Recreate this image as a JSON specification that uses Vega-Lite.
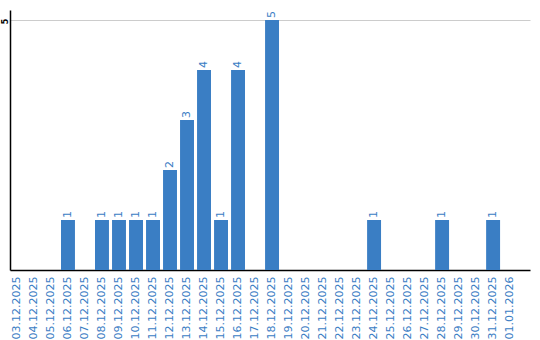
{
  "$schema": "https://vega.github.io/schema/vega-lite/v6.json",
  "width": 520,
  "height": 260,
  "autosize": "none",
  "padding": {"left": 10, "top": 10, "right": 10, "bottom": 70},
  "config": {
    "view": {"stroke": null},
    "font": "DejaVu Sans"
  },
  "data": {
    "values": [
      {"date": "03.12.2025", "count": 0},
      {"date": "04.12.2025", "count": 0},
      {"date": "05.12.2025", "count": 0},
      {"date": "06.12.2025", "count": 1},
      {"date": "07.12.2025", "count": 0},
      {"date": "08.12.2025", "count": 1},
      {"date": "09.12.2025", "count": 1},
      {"date": "10.12.2025", "count": 1},
      {"date": "11.12.2025", "count": 1},
      {"date": "12.12.2025", "count": 2},
      {"date": "13.12.2025", "count": 3},
      {"date": "14.12.2025", "count": 4},
      {"date": "15.12.2025", "count": 1},
      {"date": "16.12.2025", "count": 4},
      {"date": "17.12.2025", "count": 0},
      {"date": "18.12.2025", "count": 5},
      {"date": "19.12.2025", "count": 0},
      {"date": "20.12.2025", "count": 0},
      {"date": "21.12.2025", "count": 0},
      {"date": "22.12.2025", "count": 0},
      {"date": "23.12.2025", "count": 0},
      {"date": "24.12.2025", "count": 1},
      {"date": "25.12.2025", "count": 0},
      {"date": "26.12.2025", "count": 0},
      {"date": "27.12.2025", "count": 0},
      {"date": "28.12.2025", "count": 1},
      {"date": "29.12.2025", "count": 0},
      {"date": "30.12.2025", "count": 0},
      {"date": "31.12.2025", "count": 1},
      {"date": "01.01.2026", "count": 0}
    ]
  },
  "encoding": {
    "x": {
      "field": "date",
      "type": "ordinal",
      "sort": null,
      "scale": {"paddingInner": 0.18, "paddingOuter": 0.38, "align": 0},
      "axis": {
        "title": null,
        "labelAngle": -90,
        "labelAlign": "right",
        "labelBaseline": "middle",
        "labelPadding": 6,
        "labelFontSize": 11,
        "labelColor": "#3a7dc4",
        "ticks": false,
        "domainColor": "#000000",
        "domainWidth": 1.5,
        "grid": false
      }
    },
    "y": {
      "field": "count",
      "type": "quantitative",
      "scale": {"domain": [0, 5.2], "nice": false},
      "axis": {
        "title": null,
        "values": [5],
        "labelAngle": -90,
        "labelAlign": "center",
        "labelBaseline": "alphabetic",
        "labelPadding": 3,
        "labelOffset": 1,
        "labelFontSize": 8,
        "labelFontWeight": "bold",
        "labelColor": "#000000",
        "ticks": false,
        "domainColor": "#000000",
        "domainWidth": 1.5,
        "grid": true,
        "gridColor": "#cccccc",
        "gridWidth": 1
      }
    }
  },
  "layer": [
    {
      "mark": {"type": "bar", "color": "#3a7ec4"}
    },
    {
      "mark": {
        "type": "text",
        "angle": -90,
        "align": "left",
        "baseline": "middle",
        "dx": 2,
        "fontSize": 11,
        "color": "#3a7dc4"
      },
      "transform": [{"filter": "datum.count > 0"}],
      "encoding": {"text": {"field": "count", "type": "quantitative"}}
    }
  ]
}
